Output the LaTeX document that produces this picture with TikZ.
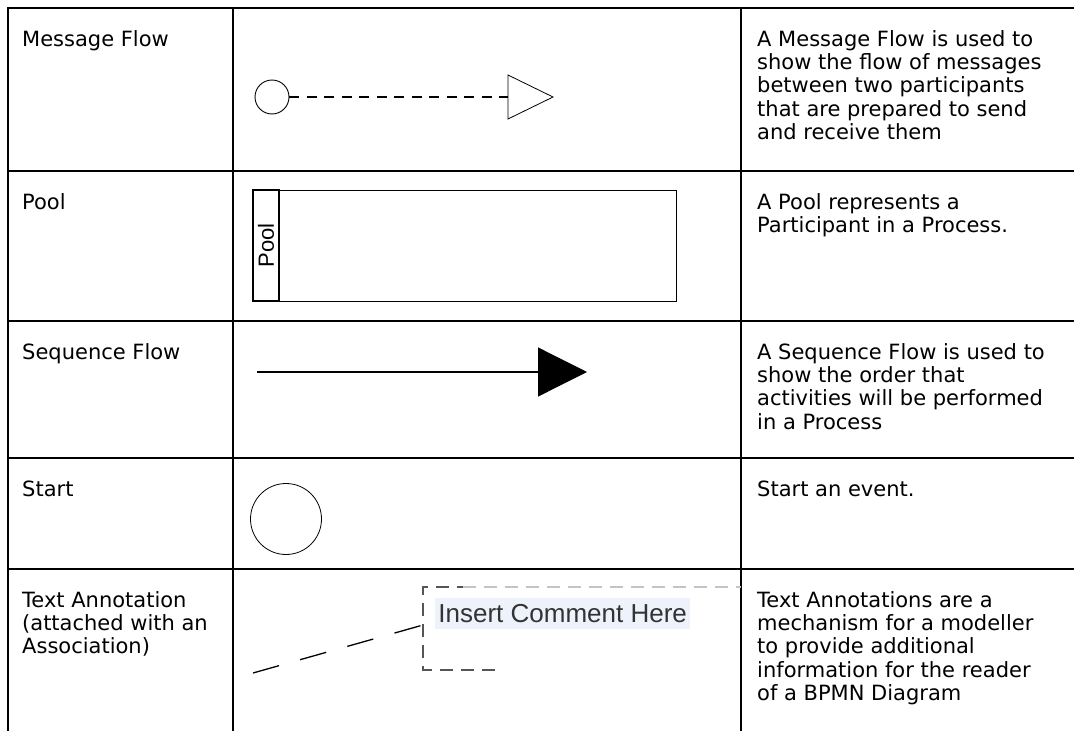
\documentclass[tikz,border=0pt]{standalone}
\usepackage{fontspec}
\setmainfont{DejaVu Sans}
\newfontfamily\arialfont{Liberation Sans}
\usetikzlibrary{positioning,arrows.meta}
\definecolor{notefill}{HTML}{EEF2FA}
\definecolor{notetext}{HTML}{333333}
\definecolor{notedark}{HTML}{555555}
\definecolor{notelight}{HTML}{C4C4C4}
\newcommand{\celltext}[1]{\parbox[t]{312pt}{\raggedright #1}}

\begin{document}
\begin{tikzpicture}[x=1pt,y=-1pt,
	rule/.style={line width=2pt},
	term/.style={anchor=base west, inner sep=0pt, font=\fontsize{21}{23.4}\selectfont},
	msgline/.style={line width=2pt, dash pattern=on 10pt off 7.5pt},
	seqline/.style={line width=1.2pt, -{Triangle[length=49pt, width=49pt]}},
	event/.style={circle, draw, inner sep=0pt},
	lanebox/.style={draw, rotate=90, line width=1.4pt, minimum width=111pt, minimum height=26pt, inner sep=0pt, font=\arialfont\fontsize{22}{22}\selectfont},
	poolbox/.style={draw, line width=1.4pt, minimum width=397pt, minimum height=111pt, inner sep=0pt},
	assoc/.style={line width=1.3pt, dash pattern=on 27pt off 22pt},
	bracket/.style={line width=1.4pt, notedark, dash pattern=on 13pt off 8pt},
	notebox/.style={fill=notefill, text=notetext, minimum width=255pt, minimum height=31pt, inner sep=0pt, font=\arialfont\fontsize{26}{26}\selectfont}]
\useasboundingbox (0,0) rectangle (1074,731);

\draw[rule] (8,731) -- (8,8) -- (1074,8);
\foreach \y in {171,321,458,569} \draw[rule] (8,\y) -- (1074,\y);
\foreach \x in {233,741} \draw[rule] (\x,8) -- (\x,731);

\node[term]		(t_msg)		at (22,46)		{Message Flow};
\node[term]		(t_pool)	at (22,209)		{Pool};
\node[term]		(t_seq)		at (22,359)		{Sequence Flow};
\node[term]		(t_start)	at (22,496)		{Start};
\node[term]		(t_note)	at (22,607)		{\celltext{Text Annotation\\(attached with an\\Association)}};

\node[term]		(d_msg)		at (757,46)		{\celltext{A Message Flow is used to\\show the flow of messages\\between two participants\\that are prepared to send\\and receive them}};
\node[term]		(d_pool)	at (757,209)	{\celltext{A Pool represents a\\Participant in a Process.}};
\node[term]		(d_seq)		at (757,359)	{\celltext{A Sequence Flow is used to\\show the order that\\activities will be performed\\in a Process}};
\node[term]		(d_start)	at (757,496)	{Start an event.};
\node[term]		(d_note)	at (757,607)	{\celltext{Text Annotations are a\\mechanism for a modeller\\to provide additional\\information for the reader\\of a BPMN Diagram}};

% message flow
\node[event, line width=0.9pt, minimum size=34pt]	(msrc)	at (272,97)	{};
\coordinate (mbase) at (508,97);
\draw[msgline] (msrc) -- (mbase);
\draw[line width=0.8pt] (mbase) -- ++(0,-22) -- ++(45,22) -- ++(-45,22) -- cycle;

% pool
\node[lanebox]						(lane)	at (266,245.5)	{Pool};
\node[poolbox, anchor=north west]	(pool)	at (279,190)	{};

% sequence flow
\coordinate (sqa) at (257,372);
\coordinate (sqb) at (587,372);
\draw[seqline] (sqa) -- (sqb);

% start event
\node[event, line width=0.8pt, minimum size=71pt]	(start)	at (286,519)	{};

% text annotation
\coordinate (aend)	at (253,673);
\coordinate (bmid)	at (423,625);
\coordinate (bfoot)	at (495,670);
\coordinate (bbot)	at (423,670);
\coordinate (btop)	at (423,587);
\coordinate (bturn)	at (463,587);
\coordinate (bcap)	at (741,587);
\draw[assoc] (aend) -- (bmid);
\draw[bracket] (bfoot) -- (bbot) -- (btop) -- (bturn);
\draw[bracket, notelight] (bturn) -- (bcap);
\node[notebox, anchor=west]	(note)	at (435,613.5)	{Insert Comment Here};
\end{tikzpicture}
\end{document}
